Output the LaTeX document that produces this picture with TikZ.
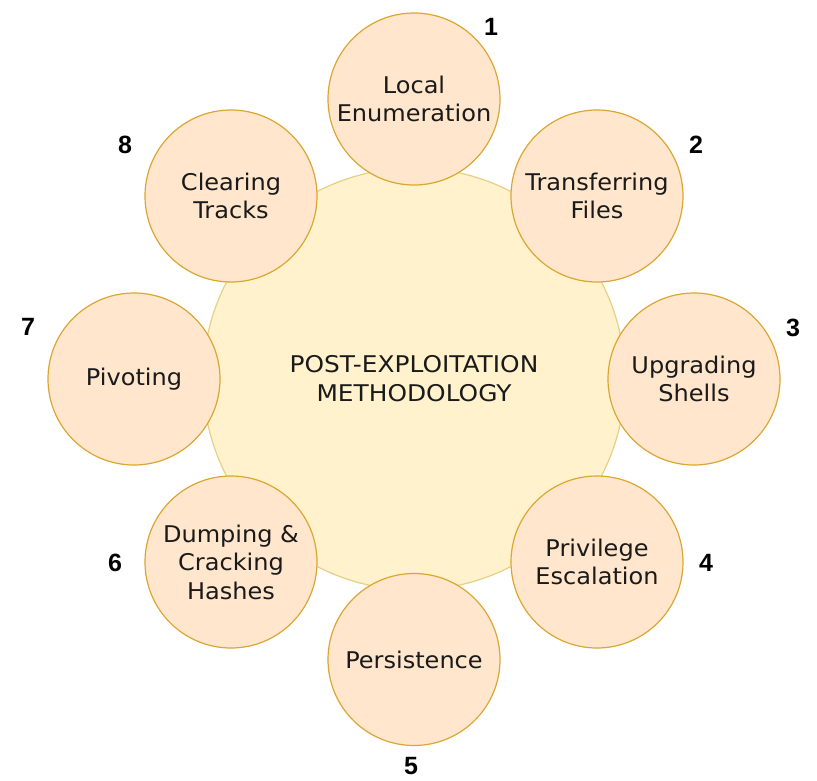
\documentclass[tikz,border=0pt]{standalone}
\usepackage{fontspec}
\setmainfont{DejaVu Sans}
\newfontfamily\smallfont{DejaVu Sans}[FakeStretch=1.045]
\newfontfamily\bigfont{DejaVu Sans}[FakeStretch=1.08]
\newfontfamily\numfont{Liberation Sans}
\definecolor{smallfill}{HTML}{FFE6CC}
\definecolor{smalldraw}{HTML}{DCA632}
\definecolor{bigfill}{HTML}{FFF2CC}
\definecolor{bigdraw}{HTML}{E6CF86}
\definecolor{txt}{HTML}{1A1A1A}
\begin{document}
\begin{tikzpicture}[x=1pt,y=-1pt,
  bigc/.style={circle,fill=bigfill,draw=bigdraw,line width=1.2pt,minimum size=422pt,inner sep=0pt,
    align=center,text=txt,font=\bigfont\fontsize{23}{29}\selectfont},
  smallc/.style={circle,fill=smallfill,draw=smalldraw,line width=1.2pt,minimum size=172pt,inner sep=0pt,
    align=center,text=txt,font=\smallfont\fontsize{23}{28.5}\selectfont},
  numlab/.style={font=\numfont\bfseries\fontsize{25}{25}\selectfont,text=black,inner sep=0pt}]
\useasboundingbox (0,0) rectangle (817,780);
\node[bigc] (center) at (414,379) {POST-EXPLOITATION\\METHODOLOGY};
\node[smallc] (s1) at (414,99) {Local\\Enumeration};
\node[smallc] (s2) at (597,196) {Transferring\\Files};
\node[smallc] (s3) at (694,379) {Upgrading\\Shells};
\node[smallc] (s4) at (597,562) {Privilege\\Escalation};
\node[smallc] (s5) at (414,659.5) {Persistence};
\node[smallc] (s6) at (231,562) {Dumping \&\\Cracking\\Hashes};
\node[smallc] (s7) at (134,379) {Pivoting};
\node[smallc] (s8) at (231,196) {Clearing\\Tracks};
\node[numlab] (n1) at (491,27) {1};
\node[numlab] (n2) at (696,145) {2};
\node[numlab] (n3) at (793,328) {3};
\node[numlab] (n4) at (706,563) {4};
\node[numlab] (n5) at (411,766) {5};
\node[numlab] (n6) at (115,563) {6};
\node[numlab] (n7) at (28,327) {7};
\node[numlab] (n8) at (125,145) {8};
\end{tikzpicture}
\end{document}
